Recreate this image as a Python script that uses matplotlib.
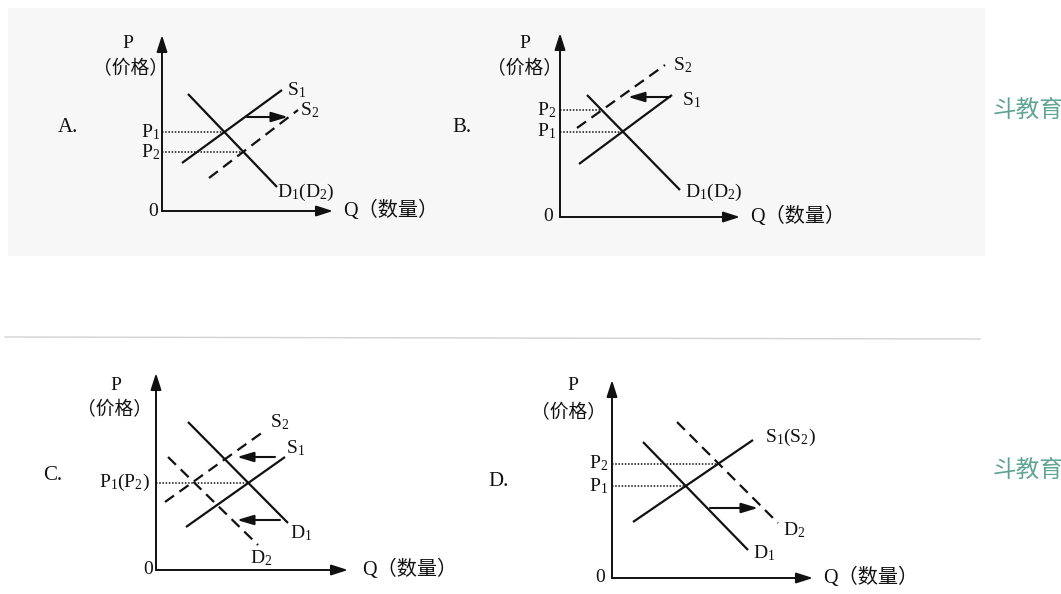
import numpy as np
import matplotlib.pyplot as plt
from matplotlib.patches import Rectangle

plt.rcParams['font.family'] = ['Liberation Serif', 'Noto Sans CJK SC']
plt.rcParams['mathtext.fontset'] = 'custom'
plt.rcParams['mathtext.rm'] = 'Liberation Serif'
plt.rcParams['mathtext.it'] = 'Liberation Serif'

W, H = 1061, 594

# panel local coordinates (px from the origin, y up)
# A: supply rises (S1 -> S2 shifts right), demand unchanged
a_s1 = [(20, 48), (120, 121)]
a_s2 = [(47, 33), (136, 101)]
a_d = [(26, 117), (115, 24)]
a_shift = [(85, 94), (126, 94)]

# B: supply falls (S1 -> S2 shifts left)
b_s1 = [(19, 53), (112, 122)]
b_s2 = [(17, 89), (105, 152)]
b_d = [(27, 122), (120, 27)]
b_shift = [(110, 120), (68, 120)]

# C: both shift left, price unchanged
c_s1 = [(30, 43), (129, 113)]
c_s2 = [(9, 68), (107, 138)]
c_d1 = [(32, 148), (132, 47)]
c_d2 = [(12, 113), (102, 25)]
c_shift = [[(119, 113), (81, 113)], [(124, 50), (81, 50)]]

# D: demand rises (D1 -> D2 shifts right)
d_s1 = [(21, 56), (141, 138)]
d_d1 = [(31, 136), (136, 28)]
d_d2 = [(65, 156), (166, 55)]
d_shift = [(98, 70), (146, 70)]

BLACK = '#111111'
FS = 14


def cross(l1, l2):
    (x1, y1), (x2, y2) = l1
    (x3, y3), (x4, y4) = l2
    m1 = (y2 - y1) / (x2 - x1)
    m2 = (y4 - y3) / (x4 - x3)
    x = (y3 - y1 + m1 * x1 - m2 * x3) / (m1 - m2)
    return x, y1 + m1 * (x - x1)


def panel(ox, oy, w, h):
    ax = fig.add_axes([ox / W, (H - oy) / H, w / W, h / H])
    ax.set_xlim(0, w)
    ax.set_ylim(0, h)
    ax.axis('off')
    kw = dict(arrowstyle='-|>,head_length=1.0,head_width=0.32', color=BLACK, lw=1.4,
              shrinkA=0, shrinkB=0)
    ax.annotate('', xy=(w, 0), xytext=(0, 0), arrowprops=kw, annotation_clip=False)
    ax.annotate('', xy=(0, h), xytext=(0, 0), arrowprops=kw, annotation_clip=False)
    return ax


def line(ax, pts, dashed=False):
    xs, ys = zip(*pts)
    ax.plot(xs, ys, color=BLACK, lw=1.6, ls=(0, (5, 3)) if dashed else '-',
            solid_capstyle='butt', clip_on=False)


def shift(ax, pts):
    ax.annotate('', xy=pts[1], xytext=pts[0], annotation_clip=False,
                arrowprops=dict(arrowstyle='-|>,head_length=1.0,head_width=0.3',
                                color=BLACK, lw=1.5, shrinkA=0, shrinkB=0))


def dotted(ax, pt):
    ax.plot([0, pt[0]], [pt[1], pt[1]], color=BLACK, lw=1.1, ls=(0, (1, 1.1)), clip_on=False)


def txt(ax, x, y, s, ha='left', size=FS):
    ax.text(x, y, s, ha=ha, va='center', fontsize=size, color=BLACK, clip_on=False)


def axis_labels(ax, w, px, py, cx, cy, zx, qx, lx, ly, letter):
    txt(ax, px, py, 'P', ha='center')
    txt(ax, cx, cy, '（价格）', ha='center', size=13.5)
    txt(ax, zx, 0, '0', ha='center')
    txt(ax, qx, 0, 'Q（数量）', size=14.5)
    txt(ax, lx, ly, letter, size=15)


fig = plt.figure(figsize=(W / 100, H / 100), dpi=100)
fig.patch.set_facecolor('white')
bg = fig.add_axes([0, 0, 1, 1])
bg.set_xlim(0, W)
bg.set_ylim(H, 0)
bg.axis('off')
bg.add_patch(Rectangle((8, 8), 977, 248, color='#f8f7f7', lw=0))
bg.plot([5, 980], [337, 339], color='#d2d2d2', lw=1.0)
for wy in (110, 470):
    bg.text(1063, wy, '斗教育', ha='right', va='center', fontsize=17,
            color='#5fa494', family='Noto Sans CJK SC')

# ---- A ----
ax = panel(162, 211, 171, 176)
line(ax, a_s1)
line(ax, a_s2, dashed=True)
line(ax, a_d)
shift(ax, a_shift)
e1, e2 = cross(a_s1, a_d), cross(a_s2, a_d)
dotted(ax, e1)
dotted(ax, e2)
txt(ax, -2, e1[1], r'P$_1$', ha='right')
txt(ax, -2, e2[1], r'P$_2$', ha='right')
txt(ax, 125, 121, r'S$_1$')
txt(ax, 138, 101, r'S$_2$')
txt(ax, 115, 19, r'D$_1$(D$_2$)')
axis_labels(ax, 171, -34, 167, -32, 142, -9, 181, -104, 83, 'A.')

# ---- B ----
ax = panel(560, 217, 180, 184)
line(ax, b_s1)
line(ax, b_s2, dashed=True)
line(ax, b_d)
shift(ax, b_shift)
e1, e2 = cross(b_s1, b_d), cross(b_s2, b_d)
dotted(ax, e1)
dotted(ax, e2)
txt(ax, -4, e1[1], r'P$_1$', ha='right')
txt(ax, -4, e2[1], r'P$_2$', ha='right')
txt(ax, 122, 117, r'S$_1$')
txt(ax, 113, 152, r'S$_2$')
txt(ax, 125, 25, r'D$_1$(D$_2$)')
axis_labels(ax, 180, -35, 173, -35, 148, -12, 190, -108, 89, 'B.')

# ---- C ----
ax = panel(156, 570, 192, 197)
line(ax, c_s1)
line(ax, c_s2, dashed=True)
line(ax, c_d1)
line(ax, c_d2, dashed=True)
for s in c_shift:
    shift(ax, s)
e1 = cross(c_s1, c_d1)
dotted(ax, e1)
txt(ax, -6, e1[1], r'P$_1$(P$_2$)', ha='right')
txt(ax, 130, 122, r'S$_1$')
txt(ax, 114, 148, r'S$_2$')
txt(ax, 134, 37, r'D$_1$')
txt(ax, 94, 12, r'D$_2$')
axis_labels(ax, 192, -40, 185, -41, 160, -8, 206, -113, 95, 'C.')

# ---- D ----
ax = panel(612, 578, 201, 198)
line(ax, d_s1)
line(ax, d_d1)
line(ax, d_d2, dashed=True)
shift(ax, d_shift)
e1, e2 = cross(d_s1, d_d1), cross(d_s1, d_d2)
dotted(ax, e1)
dotted(ax, e2)
txt(ax, -4, e1[1], r'P$_1$', ha='right')
txt(ax, -4, e2[1], r'P$_2$', ha='right')
txt(ax, 153, 141, r'S$_1$(S$_2$)')
txt(ax, 141, 25, r'D$_1$')
txt(ax, 171, 48, r'D$_2$')
axis_labels(ax, 201, -39, 193, -44, 165, -12, 211, -124, 96, 'D.')

fig.savefig('out.png', dpi=100)
